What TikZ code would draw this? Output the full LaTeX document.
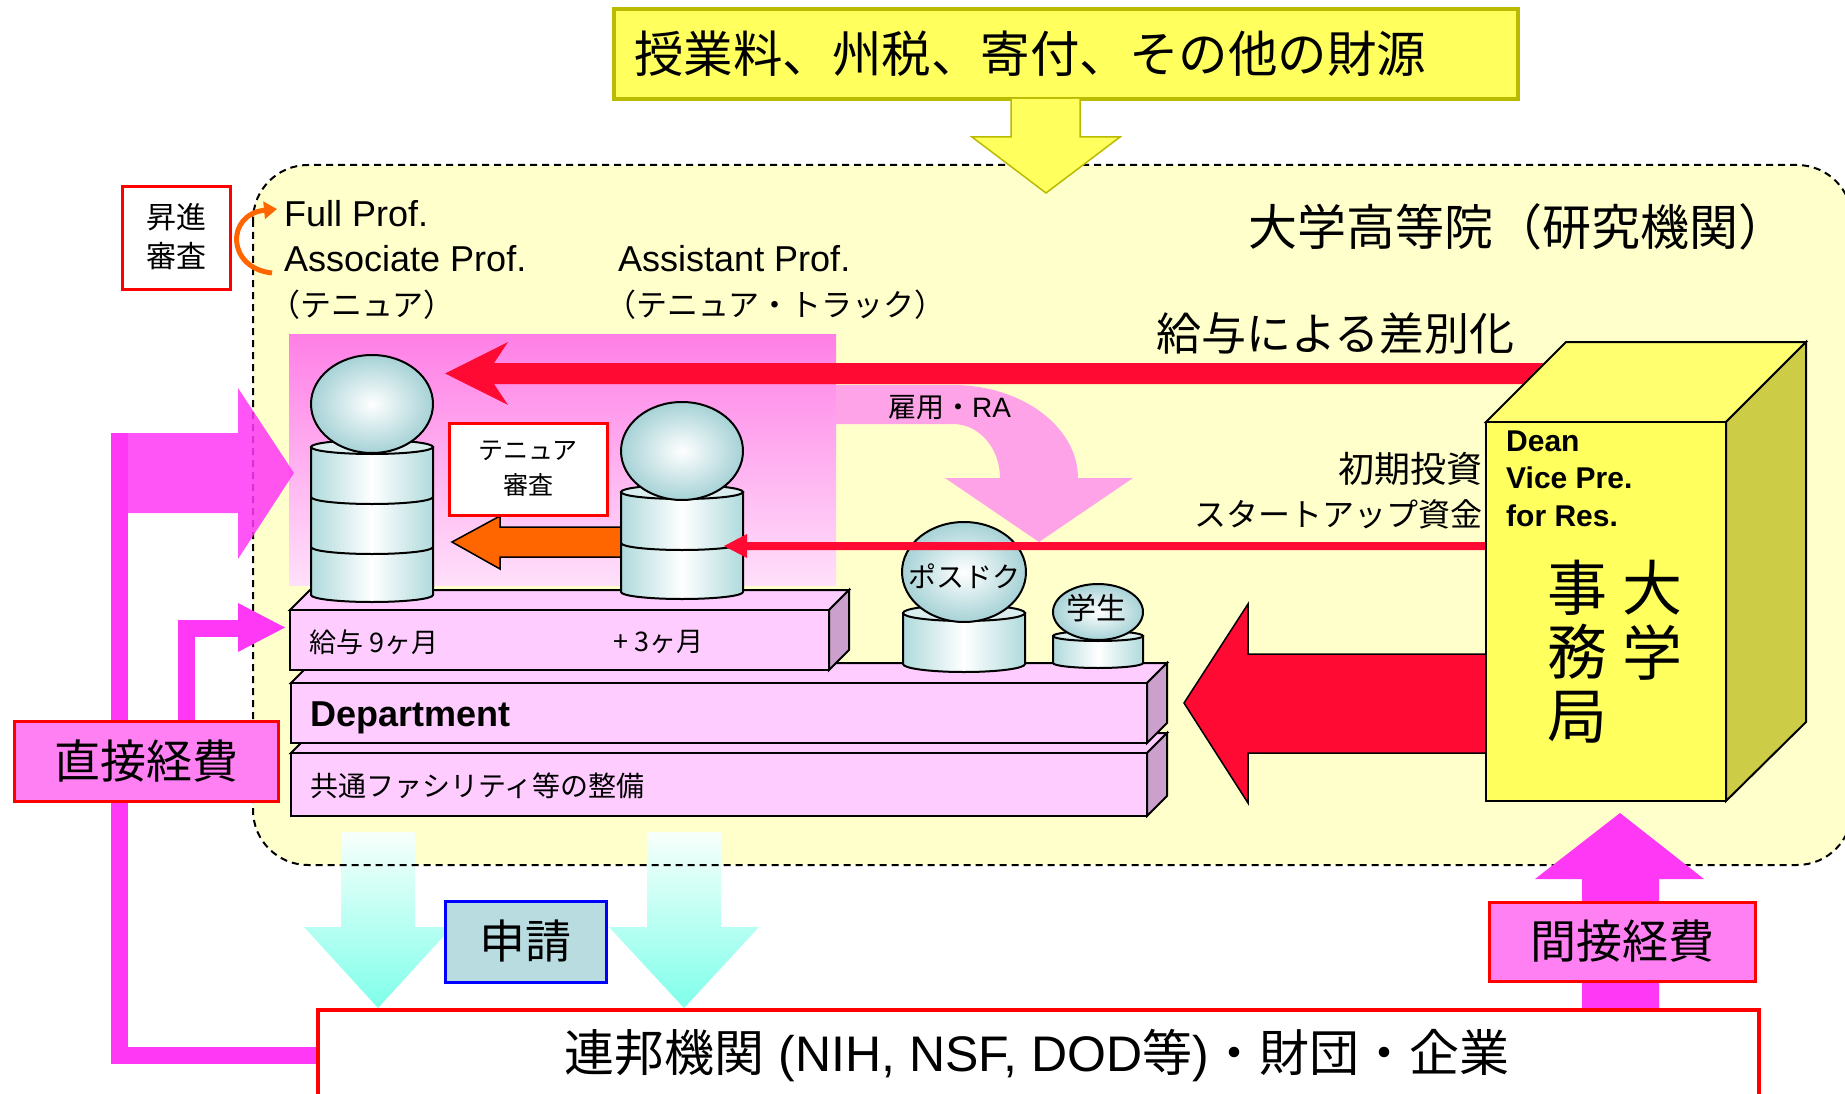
\documentclass[tikz,border=0pt]{standalone}
\usepackage{fontspec}
\setmainfont{Liberation Sans}
\newfontfamily\jp{Noto Sans CJK JP}
\usetikzlibrary{arrows.meta}
\newcommand\jfs[1]{\jp\fontsize{#1}{#1}\selectfont}
\newcommand\lfs[1]{\fontsize{#1}{#1}\selectfont}
\definecolor{regionfill}{HTML}{FFFFCC}
\definecolor{ylw}{HTML}{FFFF5E}
\definecolor{ylwtop}{HTML}{FFFF70}
\definecolor{ylwside}{HTML}{CCCC47}
\definecolor{oliveedge}{HTML}{BABA00}
\definecolor{redA}{HTML}{FF0A33}
\definecolor{orng}{HTML}{FF6600}
\definecolor{mag}{HTML}{FF38F5}
\definecolor{magbox}{HTML}{FF80F2}
\definecolor{pinkslab}{HTML}{FFCCFF}
\definecolor{pinkside}{HTML}{CCA0CC}
\definecolor{cylc}{HTML}{B0DADC}
\definecolor{sphout}{HTML}{A6D2D6}
\definecolor{pinkarrow}{HTML}{FFA3E8}
\definecolor{pinktop}{HTML}{FF7FE6}
\definecolor{pinkbot}{HTML}{FFE0FA}
\definecolor{boxteal}{HTML}{B8DCE0}
\definecolor{cyanA}{HTML}{7FFFEA}
\definecolor{cyantop}{HTML}{F8FFFB}
% 3D slab: front x1,y1,x2,y2 and depth
\newcommand\slab[5]{%
  \filldraw[slabline, fill=pinkslab] (#1,#2) -- (#1+#5,#2-#5) -- (#3+#5,#2-#5) -- (#3,#2) -- cycle;
  \filldraw[slabline, fill=pinkside] (#3,#2) -- (#3+#5,#2-#5) -- (#3+#5,#4-#5) -- (#3,#4) -- cycle;
  \filldraw[slabline, fill=pinkslab] (#1,#2) rectangle (#3,#4);
}
% cylinder body: cx, top y, bottom y, rx, ry
\newcommand\cylbody[5]{%
  \path[slabline, left color=cylc, right color=cylc, middle color=white]
    (#1-#4,#2) -- (#1-#4,#3) arc[start angle=180,end angle=0,x radius=#4,y radius=#5] -- (#1+#4,#2) -- cycle;
  \filldraw[slabline, fill=cylc!45!white] (#1,#2) ellipse[x radius=#4, y radius=#5];
}
% ring line on a cylinder: cx, y, rx, ry
\newcommand\cylring[4]{%
  \draw[slabline] (#1-#3,#2) arc[start angle=180,end angle=0,x radius=#3,y radius=#4];
}
% head: cx, cy, rx, ry
\newcommand\head[4]{%
  \path[slabline, inner color=white, outer color=sphout] (#1,#2) ellipse[x radius=#3, y radius=#4];
}
\begin{document}
\begin{tikzpicture}[x=1pt,y=-1pt,
  slabline/.style={draw=black, line width=2pt},
  lbl/.style={inner sep=0pt}]
\useasboundingbox (0,0) rectangle (1845,1094);
\fill[white] (0,0) rectangle (1845,1094);

% university region
\fill[regionfill, rounded corners=55pt] (253,165) rectangle (1852,865);

% application arrows
\shade[top color=cyantop, bottom color=cyanA] (341,832) -- (341,927) -- (304,927) -- (378,1008) -- (452,927) -- (415,927) -- (415,832) -- cycle;
\shade[top color=cyantop, bottom color=cyanA] (647,832) -- (647,927) -- (609,927) -- (684,1008) -- (759,927) -- (721,927) -- (721,832) -- cycle;

% region border
\draw[line width=2pt, dash pattern=on 7pt off 5pt, rounded corners=55pt] (253,165) rectangle (1852,865);

% salary zone
\shade[top color=pinktop, bottom color=pinkbot] (289,334) rectangle (836,585);

% hiring arrow
\fill[pinkarrow] (836,385) -- (953,385) .. controls (1022,385) and (1078,427) .. (1078,478)
  -- (1133,478) -- (1039,542) -- (945,478) -- (1000,478)
  .. controls (1000,448) and (979,424) .. (953,424) -- (836,424) -- cycle;

% salary differentiation arrow
\fill[redA] (1560,363) -- (494,363) -- (508,342) -- (445,373.5) -- (508,405) -- (494,384) -- (1560,384) -- cycle;

% direct cost lines
\draw[mag, line width=17pt] (318,1055) -- (119.5,1055) -- (119.5,433);
\fill[mag, fill opacity=0.85] (111,433) -- (238,433) -- (238,388) -- (294,473) -- (238,559) -- (238,513) -- (111,513) -- cycle;
\draw[mag, line width=17pt] (186.5,721) -- (186.5,628) -- (240,628);
\fill[mag] (238,603) -- (285,627.5) -- (238,652) -- cycle;

% funding sources
\draw[oliveedge, fill=ylw, line width=4pt] (614,9) rectangle (1518,99);
\node[lbl, anchor=west, font=\jfs{49.5}] (src) at (634,54) {授業料、州税、寄付、その他の財源};
\draw[oliveedge, fill=ylw, line width=1.5pt] (1011,99) -- (1011,137) -- (972,137) -- (1046,193) -- (1120,137) -- (1080,137) -- (1080,99);

% promotion review
\draw[red, line width=3pt, fill=white] (122,187) rectangle (230,289);
\node[lbl, align=center, font={\jp\fontsize{30}{39}\selectfont}] (promo) at (176,237) {昇進\\審査};
\draw[orng, line width=5pt, -{Triangle[length=13pt,width=17pt]}] (272,273) .. controls (226,268) and (226,214) .. (277,209);

% ranks
\node[lbl, anchor=base west, font=\lfs{36}] (full) at (284,227) {Full Prof.};
\node[lbl, anchor=base west, font=\lfs{36}] (assoc) at (284,272) {Associate Prof.};
\node[lbl, anchor=west, font=\jfs{31}] (ten1) at (269,305) {（テニュア）};
\node[lbl, anchor=base west, font=\lfs{36}] (asst) at (618,272) {Assistant Prof.};
\node[lbl, anchor=west, font=\jfs{31}] (ten2) at (605,305) {（テニュア・トラック）};
\node[lbl, anchor=west, font=\jfs{49}] (inst) at (1248,227) {大学高等院（研究機関）};
\node[lbl, anchor=west, font=\jfs{45}] (diff) at (1156,333) {給与による差別化};
\node[lbl, anchor=west, font=\lfs{28}] (ra) at (888,408) {{\jp 雇用・}RA};

% platforms
\slab{291}{753}{1147}{816}{20}
\slab{291}{683}{1147}{743}{20}
\slab{290}{610}{829}{670}{20}
\node[lbl, anchor=base west, font=\bfseries\lfs{36}] (dept) at (310,726) {Department};
\node[lbl, anchor=west, font=\jfs{27}] (sal9) at (309,642) {給与 9ヶ月};
\node[lbl, anchor=west, font=\jfs{27}] (sal3) at (613,642) {+ 3ヶ月};
\node[lbl, anchor=west, font=\jfs{28}] (fac) at (310,786) {共通ファシリティ等の整備};

% tenure review arrow
\filldraw[fill=orng, draw=black, line width=1.5pt] (640,527) -- (500,527) -- (500,516) -- (452,542) -- (500,569) -- (500,557) -- (640,557) -- cycle;

% people
\cylbody{372}{447}{595}{61}{7}
\cylring{372}{497}{61}{7}
\cylring{372}{547}{61}{7}
\head{372}{404}{61}{49}
\cylbody{682}{492}{592}{61}{7}
\cylring{682}{543}{61}{7}
\head{682}{451}{61}{49}
\cylbody{964}{613}{664}{61}{8}
\head{964}{572}{62}{50}
\cylbody{1098}{636}{663}{45}{5}
\head{1098}{612}{45}{28}
\node[lbl, font=\jfs{28}] (pd) at (964,576) {ポスドク};
\node[lbl, font=\jfs{30}] (stu) at (1096,608) {学生};

% tenure review box
\draw[red, line width=3pt, fill=white] (449,423) rectangle (607,515);
\node[lbl, align=center, font={\jp\fontsize{25}{35}\selectfont}] (tenrev) at (528,469) {テニュア\\審査};

% startup funds arrow
\fill[redA] (1490,542) -- (747,542) -- (747,534) -- (724,546) -- (747,558) -- (747,550) -- (1490,550) -- cycle;
\node[lbl, anchor=east, font=\jfs{36}] (init) at (1483,469) {初期投資};
\node[lbl, anchor=east, font=\jfs{32}] (startup) at (1483,514) {スタートアップ資金};

% operating funds arrow
\filldraw[fill=redA, draw=black, line width=1.5pt] (1490,654) -- (1248,654) -- (1248,604) -- (1184,703) -- (1248,803) -- (1248,753) -- (1490,753) -- cycle;

% administration block
\filldraw[line width=2pt, fill=ylwtop] (1486,422) -- (1566,342) -- (1806,342) -- (1726,422) -- cycle;
\filldraw[line width=2pt, fill=ylwside] (1726,422) -- (1806,342) -- (1806,722) -- (1726,801) -- cycle;
\filldraw[line width=2pt, fill=ylw] (1486,422) rectangle (1726,801);
\node[lbl, anchor=base west, font=\bfseries\lfs{30}] (dean) at (1506,451) {Dean};
\node[lbl, anchor=base west, font=\bfseries\lfs{30}] (vp) at (1506,488) {Vice Pre.};
\node[lbl, anchor=base west, font=\bfseries\lfs{30}] (res) at (1506,526) {for Res.};
\node[lbl, align=center, font={\jp\fontsize{60}{65}\selectfont}] (univ) at (1652,620) {大\\学};
\node[lbl, align=center, font={\jp\fontsize{60}{64}\selectfont}] (office) at (1577,652) {事\\務\\局};

% direct costs
\draw[red, line width=3pt, fill=magbox] (14,721) rectangle (278,801);
\node[lbl, font=\jfs{46}] (direct) at (146,761) {直接経費};

% application
\draw[blue, line width=3pt, fill=boxteal] (445,901) rectangle (606,982);
\node[lbl, font=\jfs{46}] (apply) at (525,941) {申請};

% indirect costs
\fill[mag] (1582,1010) -- (1582,879) -- (1535,879) -- (1620,813) -- (1704,879) -- (1659,879) -- (1659,1010) -- cycle;
\draw[red, line width=3pt, fill=magbox] (1489,902) rectangle (1755,981);
\node[lbl, font=\jfs{46}] (indirect) at (1622,941) {間接経費};

% funding agencies
\draw[red, line width=4pt, fill=white] (318,1010) rectangle (1759,1130);
\node[lbl, font=\lfs{50}] (fed) at (1037,1056) {{\jp 連邦機関} (NIH, NSF, DOD{\jp 等}){\jp ・財団・企業}};
\end{tikzpicture}
\end{document}
